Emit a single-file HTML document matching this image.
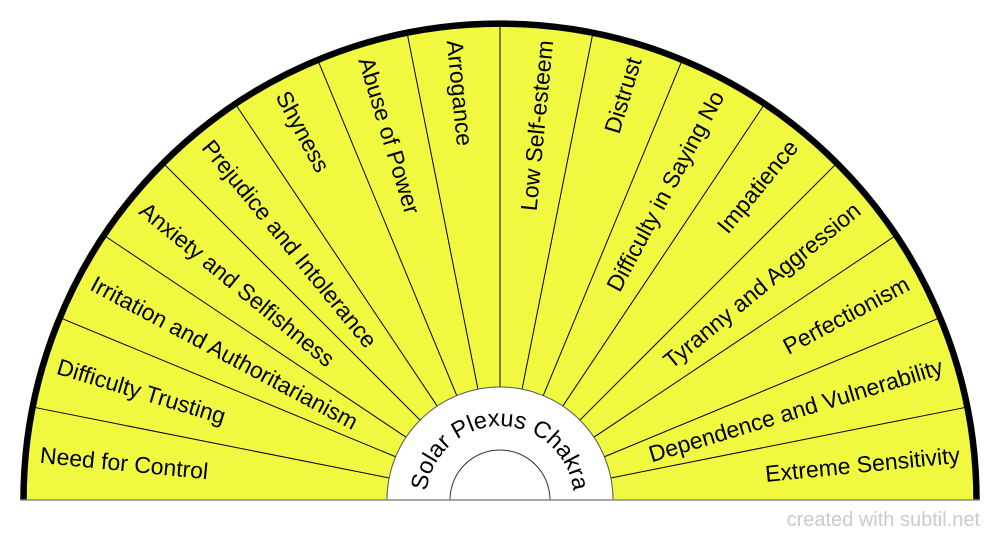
<!DOCTYPE html>
<html>
<head>
<meta charset="utf-8">
<style>
  html, body { margin:0; padding:0; background:#fff; }
  svg { display:block; }
  text { font-family: "Liberation Sans", Arial, sans-serif; fill:#000; }
</style>
</head>
<body>
<svg width="1000" height="540" viewBox="0 0 1000 540" xmlns="http://www.w3.org/2000/svg">
  <!-- yellow semicircle -->
  <path d="M 23 500 A 477 477 0 0 1 977 500 Z" fill="#f0f940"/>

  <!-- segment lines -->
  <g stroke="#000" stroke-width="1">
    <line x1="23" y1="500" x2="387" y2="500" transform="rotate(11.25 500 500)"/>
    <line x1="23" y1="500" x2="387" y2="500" transform="rotate(22.5 500 500)"/>
    <line x1="23" y1="500" x2="387" y2="500" transform="rotate(33.75 500 500)"/>
    <line x1="23" y1="500" x2="387" y2="500" transform="rotate(45 500 500)"/>
    <line x1="23" y1="500" x2="387" y2="500" transform="rotate(56.25 500 500)"/>
    <line x1="23" y1="500" x2="387" y2="500" transform="rotate(67.5 500 500)"/>
    <line x1="23" y1="500" x2="387" y2="500" transform="rotate(78.75 500 500)"/>
    <line x1="23" y1="500" x2="387" y2="500" transform="rotate(90 500 500)"/>
    <line x1="23" y1="500" x2="387" y2="500" transform="rotate(101.25 500 500)"/>
    <line x1="23" y1="500" x2="387" y2="500" transform="rotate(112.5 500 500)"/>
    <line x1="23" y1="500" x2="387" y2="500" transform="rotate(123.75 500 500)"/>
    <line x1="23" y1="500" x2="387" y2="500" transform="rotate(135 500 500)"/>
    <line x1="23" y1="500" x2="387" y2="500" transform="rotate(146.25 500 500)"/>
    <line x1="23" y1="500" x2="387" y2="500" transform="rotate(157.5 500 500)"/>
    <line x1="23" y1="500" x2="387" y2="500" transform="rotate(168.75 500 500)"/>
  </g>

  <!-- inner white semicircle -->
  <path d="M 387 500 A 113 113 0 0 1 613 500 Z" fill="#fff" stroke="#555" stroke-width="1"/>
  <path d="M 450 500 A 50 50 0 0 1 550 500" fill="#fff" stroke="#333" stroke-width="1"/>

  <!-- outer black border -->
  <path d="M 23.5 500 A 476.5 476.5 0 0 1 976.5 500" fill="none" stroke="#000" stroke-width="6.5"/>

  <!-- baseline -->
  <line x1="20" y1="500" x2="980" y2="500" stroke="#888" stroke-width="1.5"/>

  <!-- left labels -->
  <g font-size="23">
    <text x="38" y="500" dy="0.35em" transform="rotate(5.625 500 500)">Need for Control</text>
    <text x="38" y="500" dy="0.35em" transform="rotate(16.875 500 500)">Difficulty Trusting</text>
    <text x="38" y="500" dy="0.35em" transform="rotate(28.125 500 500)">Irritation and Authoritarianism</text>
    <text x="38" y="500" dy="0.35em" transform="rotate(39.375 500 500)">Anxiety and Selfishness</text>
    <text x="38" y="500" dy="0.35em" transform="rotate(50.625 500 500)">Prejudice and Intolerance</text>
    <text x="38" y="500" dy="0.35em" transform="rotate(61.875 500 500)">Shyness</text>
    <text x="38" y="500" dy="0.35em" transform="rotate(73.125 500 500)">Abuse of Power</text>
    <text x="38" y="500" dy="0.35em" transform="rotate(84.375 500 500)">Arrogance</text>
  </g>

  <!-- right labels -->
  <g font-size="23" text-anchor="end">
    <text x="962" y="500" dy="0.35em" transform="rotate(-84.375 500 500)">Low Self-esteem</text>
    <text x="962" y="500" dy="0.35em" transform="rotate(-73.125 500 500)">Distrust</text>
    <text x="962" y="500" dy="0.35em" transform="rotate(-61.875 500 500)">Difficulty in Saying No</text>
    <text x="962" y="500" dy="0.35em" transform="rotate(-50.625 500 500)">Impatience</text>
    <text x="962" y="500" dy="0.35em" transform="rotate(-39.375 500 500)">Tyranny and Aggression</text>
    <text x="962" y="500" dy="0.35em" transform="rotate(-28.125 500 500)">Perfectionism</text>
    <text x="962" y="500" dy="0.35em" transform="rotate(-16.875 500 500)">Dependence and Vulnerability</text>
    <text x="962" y="500" dy="0.35em" transform="rotate(-5.625 500 500)">Extreme Sensitivity</text>
  </g>

  <!-- center curved title -->
  <defs>
    <path id="arc" d="M 426 500 A 74 74 0 0 1 574 500"/>
  </defs>
  <text font-size="23.5" text-anchor="middle">
    <textPath href="#arc" startOffset="50%">Solar Plexus Chakra</textPath>
  </text>

  <!-- watermark -->
  <text x="980" y="526" font-size="20" text-anchor="end" style="fill:#cbcbcb">created with subtil.net</text>
</svg>
</body>
</html>
